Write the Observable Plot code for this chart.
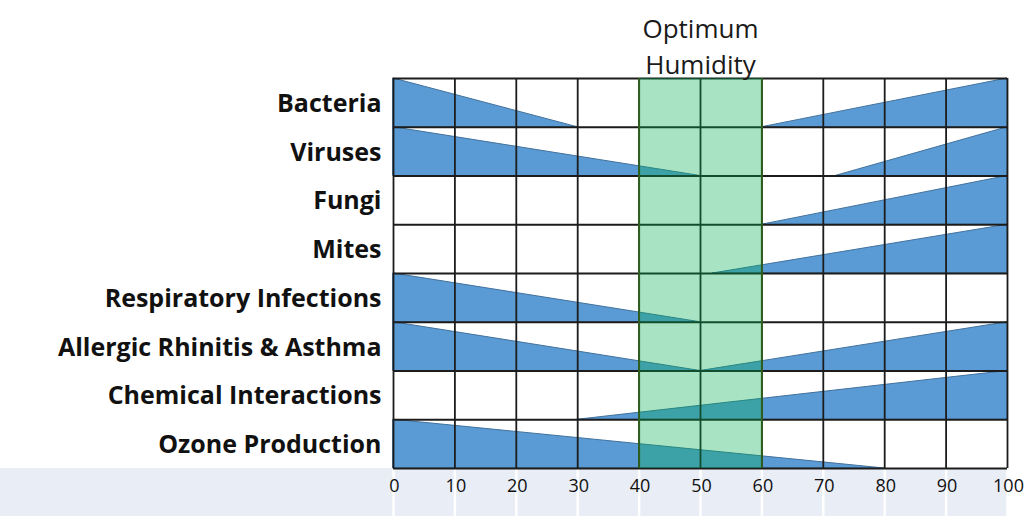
<!DOCTYPE html>
<html>
<head>
<meta charset="utf-8">
<script src="https://cdn.jsdelivr.net/npm/d3@7"></script>
<script src="https://cdn.jsdelivr.net/npm/@observablehq/plot@0.6"></script>
<style>
  html, body { margin: 0; padding: 0; background: #ffffff; }
  #wrap { position: relative; width: 1035px; height: 519px; }
  #strip { position: absolute; left: 0; top: 468px; width: 1008px; height: 48px; background: #e9edf6; }
  #chart { position: absolute; left: 0; top: 0; }
  #chart svg { background: transparent !important; }
</style>
</head>
<body>
<div id="wrap"><div id="strip"></div><div id="chart"></div></div>
<script>
const categories = ["Bacteria", "Viruses", "Fungi", "Mites", "Respiratory Infections",
  "Allergic Rhinitis & Asthma", "Chemical Interactions", "Ozone Production"];
// humidity (%) where the left-side risk wedge ends (null = none)
const leftEnd = [30, 50, null, null, 50, 50, null, 80];
// humidity (%) where the right-side risk wedge starts (null = none)
const rightStart = [60, 72, 60, 52, null, 50, 30, null];
const xTicks = [0, 10, 20, 30, 40, 50, 60, 70, 80, 90, 100];
const optimum = [{lo: 40, hi: 60, label: "Optimum\nHumidity"}];

const wedgePts = [];
categories.forEach((c, i) => {
  if (leftEnd[i] != null) {
    wedgePts.push({id: "L" + i, x: 0, y1: i + 1, y2: i});
    wedgePts.push({id: "L" + i, x: leftEnd[i], y1: i + 1, y2: i + 1});
  }
  if (rightStart[i] != null) {
    wedgePts.push({id: "R" + i, x: rightStart[i], y1: i + 1, y2: i + 1});
    wedgePts.push({id: "R" + i, x: 100, y1: i + 1, y2: i});
  }
});
const rowLines = d3.range(categories.length + 1);
const rows = categories.map((c, i) => ({c, i}));

const chart = Plot.plot({
  width: 1035,
  height: 519,
  marginLeft: 393,
  marginRight: 28,
  marginTop: 78,
  marginBottom: 51,
  style: {fontFamily: "'Open Sans', Lato, sans-serif", background: "transparent", color: "#111"},
  x: {domain: [0, 100]},
  y: {domain: [categories.length, 0], axis: null},
  marks: [
    Plot.ruleX(xTicks, {x: d => d, y1: categories.length, y2: categories.length + 0.98, stroke: "#ffffff", strokeWidth: 2.5}),
    Plot.areaY(wedgePts, {x: "x", y1: "y1", y2: "y2", z: "id", fill: "#5b9bd5", stroke: "#41719c", strokeWidth: 1, curve: "linear"}),
    Plot.ruleX(xTicks, {x: d => d, y1: 0, y2: categories.length, stroke: "#1c1c1c", strokeWidth: 1.8}),
    Plot.ruleY(rowLines, {y: d => d, x1: 0, x2: 100, stroke: "#1c1c1c", strokeWidth: 1.8}),
    Plot.rect(optimum, {x1: "lo", x2: "hi", y1: 0, y2: categories.length, fill: "#00b050", fillOpacity: 0.34}),
    Plot.ruleX(optimum, {x: "lo", y1: 0, y2: categories.length, stroke: "#2f5f1f", strokeWidth: 2}),
    Plot.ruleX(optimum, {x: "hi", y1: 0, y2: categories.length, stroke: "#2f5f1f", strokeWidth: 2}),
    Plot.text(optimum, {x: d => (d.lo + d.hi) / 2, y: () => 0, text: "label", lineAnchor: "bottom", dy: -5, lineHeight: 1.35, fontSize: 26, fill: "#1a1a1a"}),
    Plot.text(rows, {x: () => 0, y: d => d.i + 0.5, text: "c", textAnchor: "end", dx: -12, dy: 1, fontSize: 25, fontWeight: "bold", fill: "#111"}),
    Plot.axisX({ticks: xTicks, tickSize: 0, tickPadding: 11, fontSize: 18, dx: 1, label: null, tickFormat: d => String(d)})
  ]
});
document.getElementById("chart").appendChild(chart);
</script>
</body>
</html>
